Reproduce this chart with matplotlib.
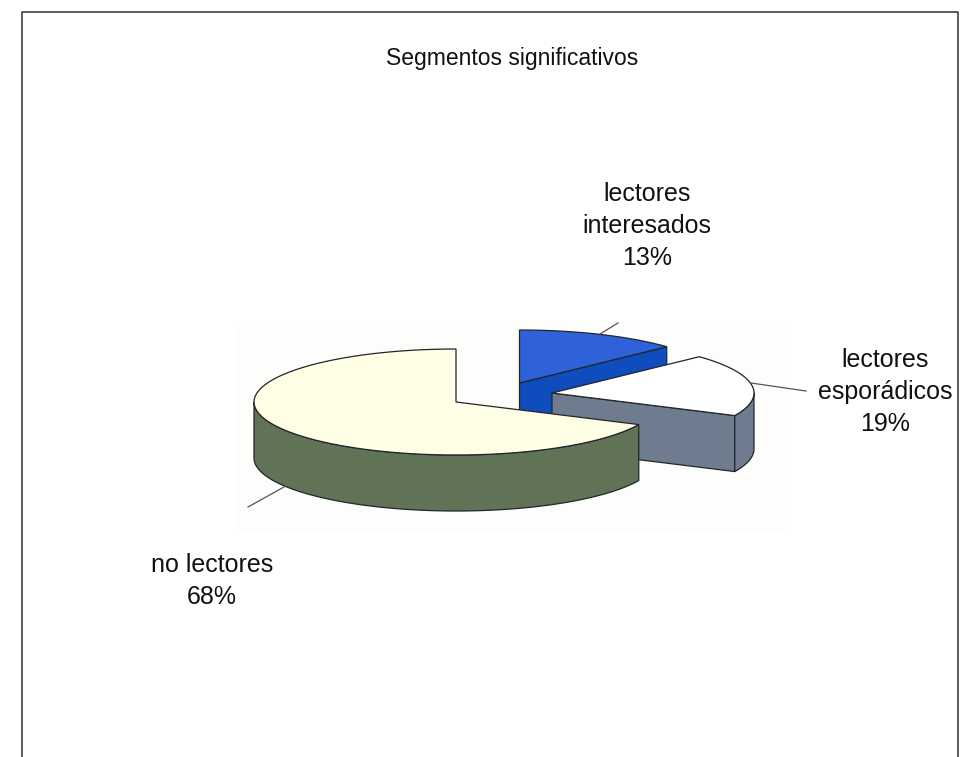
import numpy as np
import matplotlib
matplotlib.use("Agg")
import matplotlib.pyplot as plt
from matplotlib.patches import Polygon

plt.rcParams["font.family"] = ["Liberation Sans", "DejaVu Sans"]

title = "Segmentos significativos"
labels = ["lectores\ninteresados\n13%", "lectores\nesporádicos\n19%", "no lectores\n68%"]
shares = [13, 19, 68]
top_colors = ["#2f62d8", "#ffffff", "#ffffe6"]
side_colors = ["#0f4cbe", "#6f7c90", "#607356"]

W, H = 978, 757
rx, ry, depth = 202, 53, 56
# slice apex in pixels (exploded pie)
apex = [(519.5, 383), (552, 393), (456, 402)]

fig = plt.figure(figsize=(W / 100, H / 100), dpi=100)
ax = fig.add_axes([0, 0, 1, 1])
ax.set_xlim(0, W)
ax.set_ylim(H, 0)
ax.axis("off")


def rim(cx, cy, a0, a1, n=80):
    t = np.radians(np.linspace(a0, a1, n))
    return np.column_stack([cx + rx * np.cos(t), cy - ry * np.sin(t)])


def side(pts, color):
    low = pts[::-1] + [0, depth]
    ax.add_patch(Polygon(np.vstack([pts, low]), closed=True, fc=color, ec="#22262a", lw=0.9, joinstyle="round"))


# slices run clockwise from 12 o'clock
edges = 90 - 3.6 * np.cumsum([0] + shares)

# faint scan patch behind the pie
ax.fill_between([235, 785], 322, 532, color="#fdfdfc", lw=0)

# leader lines
ax.plot([600, 618], [334, 323], color="#555555", lw=0.9)
ax.plot([751, 806], [383, 391], color="#555555", lw=0.9)
ax.plot([284, 248], [487, 507], color="#555555", lw=0.9)

for i in range(3):
    cx, cy = apex[i]
    a0, a1 = edges[i], edges[i + 1]
    arc = rim(cx, cy, a0, a1)
    if i == 0:
        # cut face towards the viewer
        side(np.array([apex[i], arc[-1]]), side_colors[i])
    if i == 1:
        side(np.array([apex[i], arc[-1]]), side_colors[i])
        side(rim(cx, cy, a1, 0, 30), side_colors[i])
    if i == 2:
        side(rim(cx, cy, a0, -180, 120), side_colors[i])
    ax.add_patch(Polygon(np.vstack([apex[i], arc]), closed=True, fc=top_colors[i], ec="#22262a", lw=0.9))

# chart frame, bottom edge runs off the image
ax.plot([22, 22, 958, 958], [H + 5, 12, 12, H + 5], color="#404040", lw=1.2)

ax.text(512, 59, title, fontsize=16.5, ha="center", va="center", color="#111111")
ax.text(647, 226, labels[0], fontsize=18, ha="center", va="center", linespacing=1.44, color="#111111")
ax.text(885, 392, labels[1], fontsize=18, ha="center", va="center", linespacing=1.44, color="#111111")
ax.text(212, 581, labels[2], fontsize=18, ha="center", va="center", linespacing=1.44, color="#111111")

fig.savefig("out.png", dpi=100, facecolor="white")
